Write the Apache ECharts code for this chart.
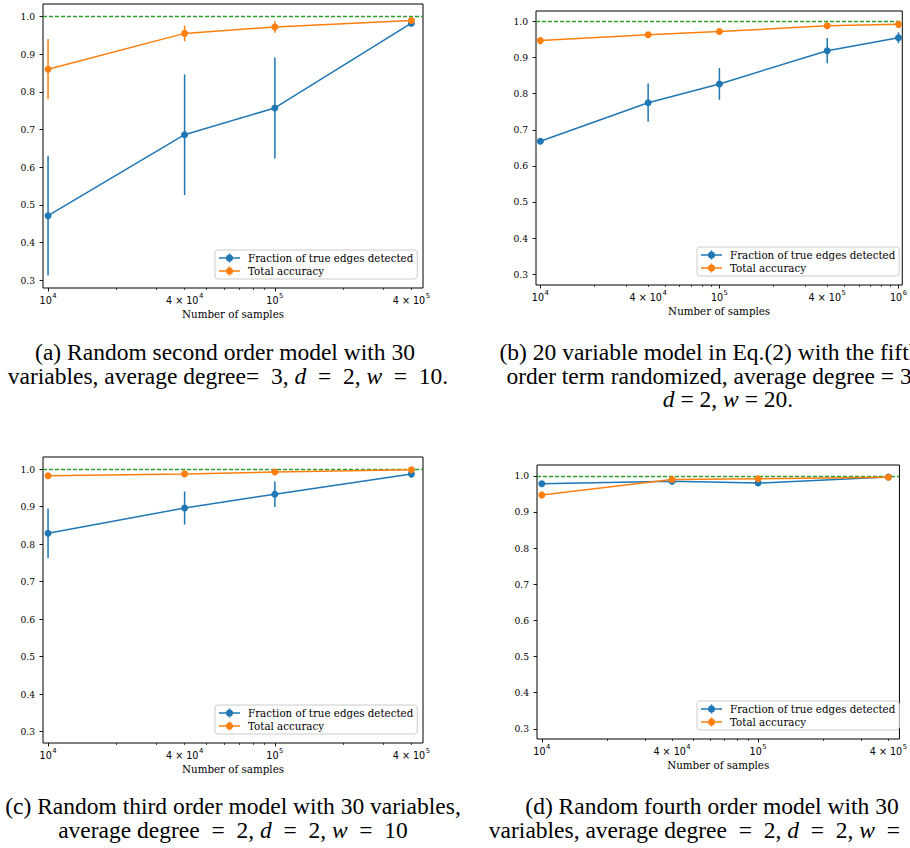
<!DOCTYPE html>
<html><head><meta charset="utf-8">
<script src="https://cdn.jsdelivr.net/npm/echarts@6/dist/echarts.min.js"></script>
<style>html,body{margin:0;padding:0;background:#fff;overflow:hidden;} #c{width:910px;height:848px;}</style>
</head><body><div id="c"></div>
<script>
// ---- data ----
const seriesNames = ['Fraction of true edges detected', 'Total accuracy'];

const samplesA = [1e4, 4e4, 1e5, 4e5];
const edgesA = [0.471, 0.686, 0.757, 0.982];
const edgesErrA = [0.159, 0.160, 0.134, 0.008];
const accA = [0.860, 0.955, 0.972, 0.989];
const accErrA = [0.080, 0.021, 0.015, 0.004];

const samplesB = [1e4, 4e4, 1e5, 4e5, 1e6];
const edgesB = [0.668, 0.775, 0.827, 0.919, 0.955];
const edgesErrB = [0.005, 0.053, 0.044, 0.035, 0.015];
const accB = [0.947, 0.963, 0.972, 0.988, 0.992];
const accErrB = [0.003, 0.003, 0.003, 0.002, 0.002];

const samplesC = [1e4, 4e4, 1e5, 4e5];
const edgesC = [0.829, 0.896, 0.933, 0.987];
const edgesErrC = [0.066, 0.044, 0.034, 0.010];
const accC = [0.982, 0.987, 0.992, 0.998];
const accErrC = [0.003, 0.003, 0.002, 0.002];

const samplesD = [1e4, 4e4, 1e5, 4e5];
const edgesD = [0.978, 0.985, 0.980, 0.997];
const edgesErrD = [0.004, 0.004, 0.004, 0.002];
const accD = [0.947, 0.990, 0.992, 0.996];
const accErrD = [0.010, 0.003, 0.003, 0.002];

const yTickValues = [0.3, 0.4, 0.5, 0.6, 0.7, 0.8, 0.9, 1.0];
const xLabelValuesACD = [1e4, 4e4, 1e5, 4e5];
const xLabelValuesB = [1e4, 4e4, 1e5, 4e5, 1e6];
const xMajorACD = [1e4, 1e5];
const xMajorB = [1e4, 1e5, 1e6];
const xMinorACD = [2e4, 3e4, 4e4, 5e4, 6e4, 7e4, 8e4, 9e4, 2e5, 3e5, 4e5];
const xMinorB = [2e4, 3e4, 4e4, 5e4, 6e4, 7e4, 8e4, 9e4, 2e5, 3e5, 4e5, 5e5, 6e5, 7e5, 8e5, 9e5];
const referenceLine = 1.0;
const xAxisTitle = 'Number of samples';

const EN = '\u2002';
const captionLines = [
  {x: 225, y: 352, t: [['n', '(a) Random second order model with 30']]},
  {x: 228, y: 375.5, t: [['n', 'variables, average degree=' + EN + '3, '], ['i', 'd'], ['n', EN + '=' + EN + '2, '], ['i', 'w'], ['n', EN + '=' + EN + '10.']]},
  {x: 710, y: 352, t: [['n', '(b) 20 variable model in Eq.(2) with the fifth']]},
  {x: 712, y: 375.5, t: [['n', 'order term randomized, average degree = 3,']]},
  {x: 728, y: 399, t: [['i', 'd'], ['n', ' = 2, '], ['i', 'w'], ['n', ' = 20.']]},
  {x: 233, y: 806, t: [['n', '(c) Random third order model with 30 variables,']]},
  {x: 233, y: 829.5, t: [['n', 'average degree' + EN + '=' + EN + '2, '], ['i', 'd'], ['n', EN + '=' + EN + '2, '], ['i', 'w'], ['n', EN + '=' + EN + '10']]},
  {x: 712, y: 806, t: [['n', '(d) Random fourth order model with 30']]},
  {x: 712, y: 829.5, t: [['n', 'variables, average degree' + EN + '=' + EN + '2, '], ['i', 'd'], ['n', EN + '=' + EN + '2, '], ['i', 'w'], ['n', EN + '=' + EN + '10']]}
];

// ---- panel definitions ----
const panels = [
  {grid: {left: 43, top: 4, width: 380, height: 284}, xlim: [9500, 450000], ylim: [0.279, 1.033],
   s: samplesA, e: edgesA, ee: edgesErrA, a: accA, ae: accErrA, lab: xLabelValuesACD, maj: xMajorACD, min: xMinorACD,
   legend: {left: 215, top: 250}},
  {grid: {left: 536, top: 11, width: 369, height: 274}, xlim: [9460, 1.05e6], ylim: [0.270, 1.029],
   s: samplesB, e: edgesB, ee: edgesErrB, a: accB, ae: accErrB, lab: xLabelValuesB, maj: xMajorB, min: xMinorB,
   legend: {left: 697, top: 247}},
  {grid: {left: 43, top: 457, width: 380, height: 286}, xlim: [9500, 450000], ylim: [0.270, 1.032],
   s: samplesC, e: edgesC, ee: edgesErrC, a: accC, ae: accErrC, lab: xLabelValuesACD, maj: xMajorACD, min: xMinorACD,
   legend: {left: 215, top: 705}},
  {grid: {left: 537, top: 465, width: 368, height: 274}, xlim: [9500, 450000], ylim: [0.272, 1.030],
   s: samplesD, e: edgesD, ee: edgesErrD, a: accD, ae: accErrD, lab: xLabelValuesACD, maj: xMajorACD, min: xMinorACD,
   legend: {left: 697, top: 701}}
];

const BLUE = '#1f77b4', ORANGE = '#ff7f0e', GREEN = '#2ca02c';
const LEGEND_ICON = 'path://M0,3.75h21v1.5h-21z M9.75,0h1.5v9h-1.5z M14,4.5A3.5,3.5 0 1,1 7,4.5A3.5,3.5 0 1,1 14,4.5z';
const L = v => Math.log10(v);
function fmtX(v) {
  const ex = Math.floor(v + 1e-9);
  const m = Math.round(Math.pow(10, v - ex));
  return (m === 1 ? '{b|10}' : '{b|' + m + ' × 10}') + '{s|' + ex + '}';
}

const option = {animation: false, grid: [], xAxis: [], yAxis: [], series: [], legend: [], graphic: []};

panels.forEach((p, i) => {
  option.grid.push(Object.assign({show: true, borderColor: '#000', borderWidth: 1, backgroundColor: 'transparent', containLabel: false}, p.grid));
  option.xAxis.push({
    type: 'value', gridIndex: i, min: L(p.xlim[0]), max: L(p.xlim[1]), position: 'bottom',
    axisLine: {show: false}, splitLine: {show: false},
    axisTick: {show: true, length: 3.5, lineStyle: {color: '#000', width: 0.9}, customValues: p.maj.map(L)},
    axisLabel: {show: true, customValues: p.lab.map(L), formatter: fmtX, margin: 4, color: '#000',
      rich: {
        b: {fontFamily: 'DejaVu Sans', fontSize: 9.6, lineHeight: 13, verticalAlign: 'bottom', color: '#000'},
        s: {fontFamily: 'DejaVu Sans', fontSize: 6.8, lineHeight: 8, verticalAlign: 'top', color: '#000', padding: [0, 0, 0, 0.5]}
      }},
    name: xAxisTitle, nameLocation: 'middle', nameGap: 21,
    nameTextStyle: {fontFamily: 'DejaVu Serif', fontSize: 10.3, color: '#000'}
  });
  option.xAxis.push({
    type: 'value', gridIndex: i, min: L(p.xlim[0]), max: L(p.xlim[1]), position: 'bottom', offset: 0,
    axisLine: {show: false}, splitLine: {show: false}, axisLabel: {show: false},
    axisTick: {show: true, length: 2, lineStyle: {color: '#000', width: 0.7}, customValues: p.min.map(L)}
  });
  option.yAxis.push({
    type: 'value', gridIndex: i, min: p.ylim[0], max: p.ylim[1],
    axisLine: {show: false}, splitLine: {show: false},
    axisTick: {show: true, length: 3.5, lineStyle: {color: '#000', width: 0.9}, customValues: yTickValues},
    axisLabel: {show: true, customValues: yTickValues, formatter: v => v.toFixed(1), margin: 8,
      fontFamily: 'DejaVu Serif', fontSize: 9.2, color: '#000'}
  });
  const xi = i * 2, yi = i;
  const errSeries = (vals, errs, color, nm, z) => ({
    type: 'custom', name: nm, xAxisIndex: xi, yAxisIndex: yi, silent: true, z: z,
    data: p.s.map((s, k) => [L(s), vals[k], errs[k]]),
    renderItem: (params, api) => {
      const x = api.value(0), y = api.value(1), e = api.value(2);
      const p1 = api.coord([x, y - e]), p2 = api.coord([x, y + e]);
      return {type: 'line', shape: {x1: p1[0], y1: p1[1], x2: p2[0], y2: p2[1]},
        style: {stroke: color, lineWidth: 1.5}};
    }
  });
  option.series.push(errSeries(p.e, p.ee, BLUE, 'errE' + i, 2));
  option.series.push({
    type: 'line', name: seriesNames[0], xAxisIndex: xi, yAxisIndex: yi, z: 3,
    data: p.s.map((s, k) => [L(s), p.e[k]]),
    symbol: 'circle', symbolSize: 7, showSymbol: true,
    lineStyle: {color: BLUE, width: 1.5}, itemStyle: {color: BLUE}
  });
  option.series.push(errSeries(p.a, p.ae, ORANGE, 'errA' + i, 4));
  option.series.push({
    type: 'line', name: seriesNames[1], xAxisIndex: xi, yAxisIndex: yi, z: 5,
    data: p.s.map((s, k) => [L(s), p.a[k]]),
    symbol: 'circle', symbolSize: 7, showSymbol: true,
    lineStyle: {color: ORANGE, width: 1.5}, itemStyle: {color: ORANGE},
    markLine: {silent: true, symbol: 'none', label: {show: false}, animation: false,
      lineStyle: {color: GREEN, type: [4, 2], width: 1.3}, data: [{yAxis: referenceLine}]}
  });
  option.legend.push({
    orient: 'vertical', left: p.legend.left, top: p.legend.top,
    data: seriesNames.map(n => ({name: n, icon: LEGEND_ICON})),
    itemWidth: 21, itemHeight: 9, itemGap: 3, padding: [3, 4, 3, 4], selectedMode: false,
    borderColor: '#cccccc', borderWidth: 1, borderRadius: 3, backgroundColor: 'rgba(255,255,255,0.8)',
    textStyle: {fontFamily: 'DejaVu Serif', fontSize: 10.3, color: '#000', padding: [0, 0, 0, 3]}
  });
});

const CAP_FS = 23.5;
captionLines.forEach(c => {
  option.graphic.push({
    type: 'text', silent: true,
    style: {
      x: c.x, y: c.y, align: 'center', verticalAlign: 'middle',
      text: c.t.map(t => '{' + t[0] + '|' + t[1] + '}').join(''),
      fill: '#000', fontFamily: 'Liberation Serif', fontSize: CAP_FS,
      rich: {
        n: {fontFamily: 'Liberation Serif', fontSize: CAP_FS, fill: '#000'},
        i: {fontFamily: 'Liberation Serif', fontSize: CAP_FS, fontStyle: 'italic', fill: '#000'}
      }
    }
  });
});

const chart = echarts.init(document.getElementById('c'), null, {renderer: 'svg'});
chart.setOption(option);
</script>
</body></html>
